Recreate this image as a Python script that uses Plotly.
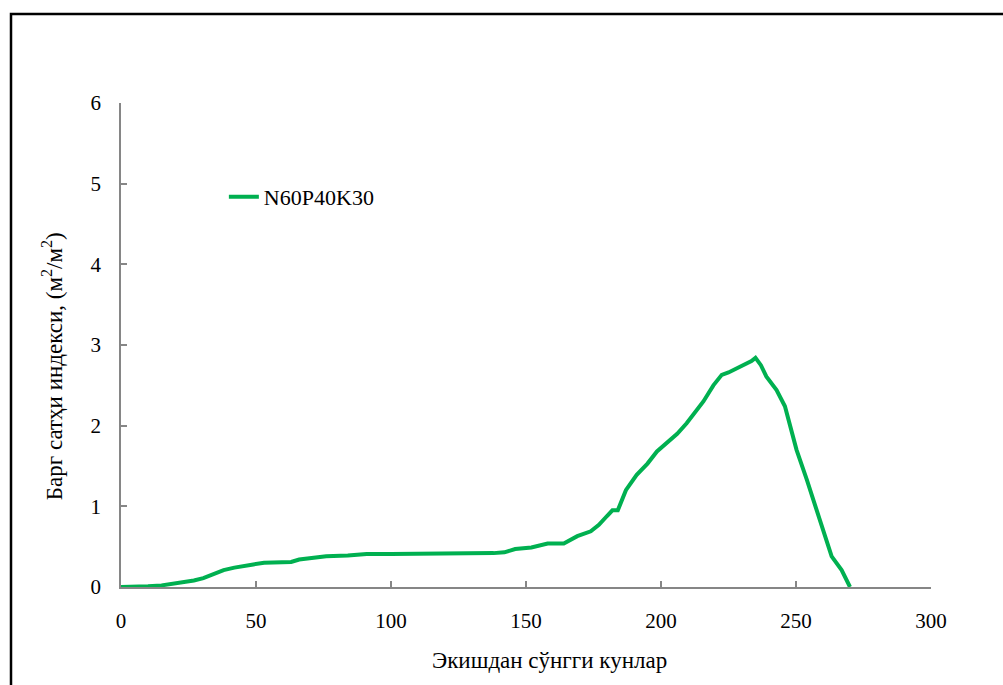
import plotly.graph_objects as go

# Leaf area index after sowing, N60P40K30 treatment
days = [0, 5, 10, 15, 20, 23, 27, 30.5, 34, 38, 42, 45, 49, 53, 58, 63, 66, 70, 76, 84,
        91, 100, 110, 120, 130, 135, 138, 142, 146, 152, 158, 164, 169, 174, 177, 180,
        182, 184, 187, 191, 195, 198.5, 203, 206, 209.5, 212.6, 215.7, 219.4, 222.5,
        225, 228, 231.7, 233.5, 235, 237, 239, 242.8, 245.9, 248.4, 250.2, 254, 257.7,
        260.7, 263.2, 266.9, 268.5, 270]
lai = [0, 0.0, 0.01, 0.02, 0.04, 0.06, 0.08, 0.11, 0.16, 0.21, 0.24, 0.26, 0.28, 0.30,
       0.30, 0.31, 0.34, 0.36, 0.38, 0.39, 0.41, 0.41, 0.41, 0.41, 0.41, 0.41, 0.42, 0.43,
       0.47, 0.49, 0.54, 0.54, 0.63, 0.69, 0.77, 0.88, 0.95, 0.95, 1.20, 1.39, 1.53, 1.68,
       1.82, 1.90, 2.03, 2.17, 2.30, 2.50, 2.63, 2.66, 2.71, 2.77, 2.80, 2.84, 2.75, 2.61,
       2.44, 2.24, 1.91, 1.70, 1.33, 0.95, 0.67, 0.38, 0.21, 0.10, 0.0]

series_name = "N60P40K30"
x_title = "Экишдан сўнгги кунлар"
y_title = "Барг сатҳи индекси, (м<sup>2</sup>/м<sup>2</sup>)"
x_ticks = [0, 50, 100, 150, 200, 250, 300]
y_ticks = [0, 1, 2, 3, 4, 5, 6]

FONT = "Liberation Serif"
AXIS_GREY = "#868686"

fig = go.Figure()
fig.add_trace(go.Scatter(
    x=days, y=lai, mode="lines", name=series_name,
    line=dict(color="#00B050", width=4),
))

axis_common = dict(
    showgrid=False, zeroline=False, showline=True, linecolor=AXIS_GREY, linewidth=1.5,
    ticks="inside", ticklen=6, tickcolor=AXIS_GREY, tickwidth=1.5,
    tickfont=dict(family=FONT, size=21, color="#000000"),
    ticklabelstandoff=14,
)

fig.update_layout(
    width=1003, height=685,
    margin=dict(l=121, r=72, t=103, b=98),
    paper_bgcolor="white", plot_bgcolor="white",
    xaxis=dict(range=[0, 300], tickvals=x_ticks, **axis_common),
    yaxis=dict(range=[0, 6], tickvals=y_ticks, **axis_common),
    showlegend=True,
    legend=dict(
        x=0.127, y=0.806, xanchor="left", yanchor="middle",
        bgcolor="rgba(0,0,0,0)", font=dict(family=FONT, size=22, color="#000000"),
    ),
    annotations=[
        dict(text=x_title, xref="paper", yref="paper", x=0.5296, y=-0.151,
             xanchor="center", yanchor="middle", showarrow=False,
             font=dict(family=FONT, size=23, color="#000000")),
        dict(text=y_title, xref="paper", yref="paper", x=-0.085, y=0.4566,
             xanchor="center", yanchor="middle", showarrow=False, textangle=-90,
             font=dict(family=FONT, size=23, color="#000000")),
    ],
    shapes=[
        # outer chart frame
        dict(type="rect", xref="paper", yref="paper",
             x0=-0.1358, x1=1.1, y0=-0.22, y1=1.1839,
             line=dict(color="black", width=2.5), fillcolor="rgba(0,0,0,0)"),
    ],
)

fig.write_html("out.html")
